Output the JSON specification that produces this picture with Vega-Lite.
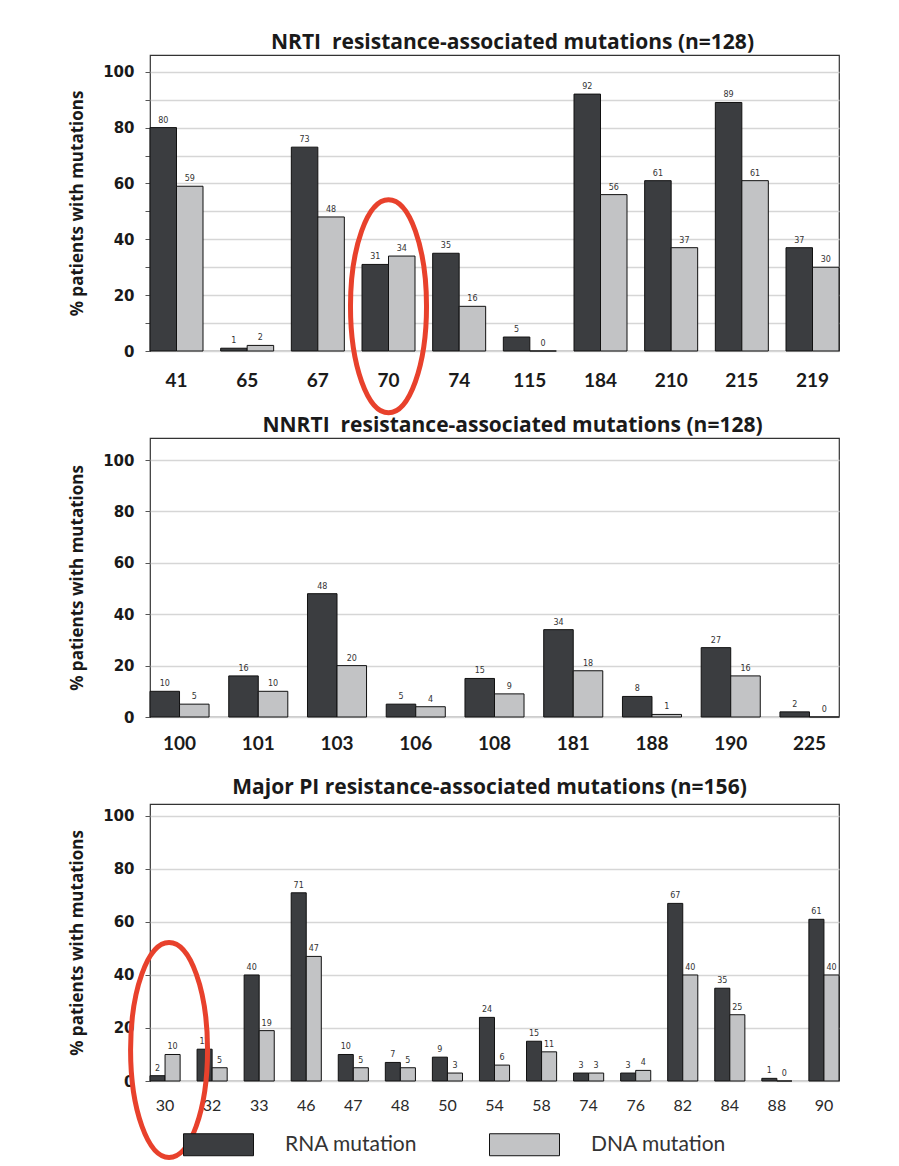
{
  "$schema": "https://vega.github.io/schema/vega-lite/v6.json",
  "padding": {"left": 68, "top": 31, "right": 5, "bottom": 5},
  "background": "#ffffff",
  "bounds": "flush",
  "resolve": {"scale": {"x": "independent", "xOffset": "independent", "y": "independent", "color": "shared"}},
  "datasets": {
    "nrti": [
      {"mutation": "41", "series": "RNA mutation", "pct": 80}, {"mutation": "41", "series": "DNA mutation", "pct": 59},
      {"mutation": "65", "series": "RNA mutation", "pct": 1}, {"mutation": "65", "series": "DNA mutation", "pct": 2},
      {"mutation": "67", "series": "RNA mutation", "pct": 73}, {"mutation": "67", "series": "DNA mutation", "pct": 48},
      {"mutation": "70", "series": "RNA mutation", "pct": 31}, {"mutation": "70", "series": "DNA mutation", "pct": 34},
      {"mutation": "74", "series": "RNA mutation", "pct": 35}, {"mutation": "74", "series": "DNA mutation", "pct": 16},
      {"mutation": "115", "series": "RNA mutation", "pct": 5}, {"mutation": "115", "series": "DNA mutation", "pct": 0},
      {"mutation": "184", "series": "RNA mutation", "pct": 92}, {"mutation": "184", "series": "DNA mutation", "pct": 56},
      {"mutation": "210", "series": "RNA mutation", "pct": 61}, {"mutation": "210", "series": "DNA mutation", "pct": 37},
      {"mutation": "215", "series": "RNA mutation", "pct": 89}, {"mutation": "215", "series": "DNA mutation", "pct": 61},
      {"mutation": "219", "series": "RNA mutation", "pct": 37}, {"mutation": "219", "series": "DNA mutation", "pct": 30}
    ],
    "nnrti": [
      {"mutation": "100", "series": "RNA mutation", "pct": 10}, {"mutation": "100", "series": "DNA mutation", "pct": 5},
      {"mutation": "101", "series": "RNA mutation", "pct": 16}, {"mutation": "101", "series": "DNA mutation", "pct": 10},
      {"mutation": "103", "series": "RNA mutation", "pct": 48}, {"mutation": "103", "series": "DNA mutation", "pct": 20},
      {"mutation": "106", "series": "RNA mutation", "pct": 5}, {"mutation": "106", "series": "DNA mutation", "pct": 4},
      {"mutation": "108", "series": "RNA mutation", "pct": 15}, {"mutation": "108", "series": "DNA mutation", "pct": 9},
      {"mutation": "181", "series": "RNA mutation", "pct": 34}, {"mutation": "181", "series": "DNA mutation", "pct": 18},
      {"mutation": "188", "series": "RNA mutation", "pct": 8}, {"mutation": "188", "series": "DNA mutation", "pct": 1},
      {"mutation": "190", "series": "RNA mutation", "pct": 27}, {"mutation": "190", "series": "DNA mutation", "pct": 16},
      {"mutation": "225", "series": "RNA mutation", "pct": 2}, {"mutation": "225", "series": "DNA mutation", "pct": 0}
    ],
    "pi": [
      {"mutation": "30", "series": "RNA mutation", "pct": 2}, {"mutation": "30", "series": "DNA mutation", "pct": 10},
      {"mutation": "32", "series": "RNA mutation", "pct": 12}, {"mutation": "32", "series": "DNA mutation", "pct": 5},
      {"mutation": "33", "series": "RNA mutation", "pct": 40}, {"mutation": "33", "series": "DNA mutation", "pct": 19},
      {"mutation": "46", "series": "RNA mutation", "pct": 71}, {"mutation": "46", "series": "DNA mutation", "pct": 47},
      {"mutation": "47", "series": "RNA mutation", "pct": 10}, {"mutation": "47", "series": "DNA mutation", "pct": 5},
      {"mutation": "48", "series": "RNA mutation", "pct": 7}, {"mutation": "48", "series": "DNA mutation", "pct": 5},
      {"mutation": "50", "series": "RNA mutation", "pct": 9}, {"mutation": "50", "series": "DNA mutation", "pct": 3},
      {"mutation": "54", "series": "RNA mutation", "pct": 24}, {"mutation": "54", "series": "DNA mutation", "pct": 6},
      {"mutation": "58", "series": "RNA mutation", "pct": 15}, {"mutation": "58", "series": "DNA mutation", "pct": 11},
      {"mutation": "74", "series": "RNA mutation", "pct": 3}, {"mutation": "74", "series": "DNA mutation", "pct": 3},
      {"mutation": "76", "series": "RNA mutation", "pct": 3}, {"mutation": "76", "series": "DNA mutation", "pct": 4},
      {"mutation": "82", "series": "RNA mutation", "pct": 67}, {"mutation": "82", "series": "DNA mutation", "pct": 40},
      {"mutation": "84", "series": "RNA mutation", "pct": 35}, {"mutation": "84", "series": "DNA mutation", "pct": 25},
      {"mutation": "88", "series": "RNA mutation", "pct": 1}, {"mutation": "88", "series": "DNA mutation", "pct": 0},
      {"mutation": "90", "series": "RNA mutation", "pct": 61}, {"mutation": "90", "series": "DNA mutation", "pct": 40}
    ],
    "hl_nrti": [{"mutation": "70", "pct": 16}],
    "hl_pi": [{"mutation": "30", "pct": 11.7}]
  },
  "vconcat": [
    {
      "title": {"text": "NRTI\u00a0 resistance-associated mutations (n=128)", "dx": 18, "offset": 2},
      "width": 689, "height": 296,
      "data": {"name": "nrti"},
      "encoding": {
        "x": {"field": "mutation", "type": "nominal", "sort": null, "title": null,
              "scale": {"paddingInner": 0.25, "paddingOuter": 0},
              "axis": {"labelAngle": 0, "ticks": false, "domain": false, "labelPadding": 20, "labelFont": "Lato", "labelFontSize": 19, "labelFontWeight": "bold", "labelColor": "#1a1a1a"}},
        "y": {"field": "pct", "type": "quantitative", "scale": {"domain": [0, 106], "nice": false},
              "title": "% patients with mutations"}
      },
      "layer": [
        {"mark": {"type": "bar", "stroke": "#111111", "strokeWidth": 1},
         "encoding": {
           "xOffset": {"field": "series", "type": "nominal", "sort": ["RNA mutation", "DNA mutation"], "scale": {"paddingInner": 0, "paddingOuter": 0}},
           "color": {"field": "series", "type": "nominal", "sort": ["RNA mutation", "DNA mutation"], "scale": {"domain": ["RNA mutation", "DNA mutation"], "range": ["#3b3d40", "#c2c3c5"]}}
         }},
        {"mark": {"type": "text", "dy": -7, "fontSize": 8, "font": "DejaVu Sans", "color": "#333333"},
         "encoding": {
           "xOffset": {"field": "series", "type": "nominal", "sort": ["RNA mutation", "DNA mutation"], "scale": {"paddingInner": 0, "paddingOuter": 0}},
           "text": {"field": "pct", "type": "quantitative"}
         }},
        {"data": {"name": "hl_nrti"},
         "mark": {"type": "point", "shape": "M0,-1A0.357,1,0,1,1,0,1A0.357,1,0,1,1,0,-1Z", "size": 45369, "filled": false, "stroke": "#e8412c", "strokeWidth": 5, "opacity": 1},
         "encoding": {"x": {"field": "mutation", "type": "nominal"}, "y": {"field": "pct", "type": "quantitative"}}}
      ]
    },
    {
      "title": {"text": "NNRTI\u00a0 resistance-associated mutations (n=128)", "dx": 18, "offset": 2},
      "width": 689, "height": 279,
      "data": {"name": "nnrti"},
      "encoding": {
        "x": {"field": "mutation", "type": "nominal", "sort": null, "title": null,
              "scale": {"paddingInner": 0.25, "paddingOuter": 0},
              "axis": {"labelAngle": 0, "ticks": false, "domain": false, "labelPadding": 17, "labelFont": "Lato", "labelFontSize": 19, "labelFontWeight": "bold", "labelColor": "#1a1a1a"}},
        "y": {"field": "pct", "type": "quantitative", "scale": {"domain": [0, 108.6], "nice": false},
              "title": "% patients with mutations"}
      },
      "layer": [
        {"mark": {"type": "bar", "stroke": "#111111", "strokeWidth": 1},
         "encoding": {
           "xOffset": {"field": "series", "type": "nominal", "sort": ["RNA mutation", "DNA mutation"], "scale": {"paddingInner": 0, "paddingOuter": 0}},
           "color": {"field": "series", "type": "nominal", "sort": ["RNA mutation", "DNA mutation"], "scale": {"domain": ["RNA mutation", "DNA mutation"], "range": ["#3b3d40", "#c2c3c5"]}}
         }},
        {"mark": {"type": "text", "dy": -7, "fontSize": 8, "font": "DejaVu Sans", "color": "#333333"},
         "encoding": {
           "xOffset": {"field": "series", "type": "nominal", "sort": ["RNA mutation", "DNA mutation"], "scale": {"paddingInner": 0, "paddingOuter": 0}},
           "text": {"field": "pct", "type": "quantitative"}
         }}
      ]
    },
    {
      "title": {"text": "Major PI resistance-associated mutations (n=156)", "dx": -5, "offset": 6},
      "width": 689, "height": 277,
      "data": {"name": "pi"},
      "encoding": {
        "x": {"field": "mutation", "type": "nominal", "sort": null, "title": null,
              "scale": {"paddingInner": 0.36, "paddingOuter": 0},
              "axis": {"labelAngle": 0, "ticks": false, "domain": false, "labelPadding": 16, "labelFont": "Lato", "labelFontSize": 16, "labelFontWeight": "normal", "labelColor": "#2a2a2a"}},
        "y": {"field": "pct", "type": "quantitative", "scale": {"domain": [0, 104.5], "nice": false},
              "title": "% patients with mutations"}
      },
      "layer": [
        {"mark": {"type": "bar", "stroke": "#111111", "strokeWidth": 1},
         "encoding": {
           "xOffset": {"field": "series", "type": "nominal", "sort": ["RNA mutation", "DNA mutation"], "scale": {"paddingInner": 0, "paddingOuter": 0}},
           "color": {"field": "series", "type": "nominal", "sort": ["RNA mutation", "DNA mutation"], "scale": {"domain": ["RNA mutation", "DNA mutation"], "range": ["#3b3d40", "#c2c3c5"]}}
         }},
        {"mark": {"type": "text", "dy": -7, "fontSize": 8, "font": "DejaVu Sans", "color": "#333333"},
         "encoding": {
           "xOffset": {"field": "series", "type": "nominal", "sort": ["RNA mutation", "DNA mutation"], "scale": {"paddingInner": 0, "paddingOuter": 0}},
           "text": {"field": "pct", "type": "quantitative"}
         }},
        {"data": {"name": "hl_pi"},
         "mark": {"type": "point", "shape": "M0,-1A0.358,1,0,1,1,0,1A0.358,1,0,1,1,0,-1Z", "size": 46225, "xOffset": 4, "filled": false, "stroke": "#e8412c", "strokeWidth": 5, "opacity": 1},
         "encoding": {"x": {"field": "mutation", "type": "nominal"}, "y": {"field": "pct", "type": "quantitative"}}}
      ]
    }
  ],
  "spacing": 87,
  "config": {
    "view": {"stroke": "#333333", "strokeWidth": 1.2},
    "title": {"font": "Open Sans", "fontSize": 21, "fontWeight": "bold", "color": "#1a1a1a", "offset": 4, "anchor": "middle"},
    "axisX": {"grid": false},
    "axisY": {
      "values": [0, 10, 20, 30, 40, 50, 60, 70, 80, 90, 100],
      "labelExpr": "datum.value % 20 === 0 ? datum.label : ''",
      "grid": true, "gridColor": "#d6d6d6", "gridWidth": 1.5,
      "domain": false, "ticks": true, "tickSize": 5, "tickColor": "#555555",
      "labelFont": "DejaVu Sans", "labelFontSize": 15, "labelFontWeight": "bold", "labelColor": "#1a1a1a", "labelPadding": 11,
      "titleFont": "Open Sans", "titleFontSize": 17, "titleFontWeight": "bold", "titleColor": "#1a1a1a", "titlePadding": 16
    },
    "legend": {
      "orient": "none", "legendX": 33, "legendY": 1054, "direction": "horizontal", "title": null,
      "symbolType": "M-1,-0.314H1V0.314H-1Z", "symbolSize": 4900, "symbolStrokeColor": "#111111", "symbolStrokeWidth": 1, "symbolOpacity": 1,
      "labelFont": "Lato", "labelFontSize": 21, "labelColor": "#333333", "labelOffset": 31, "columnPadding": 69, "labelLimit": 300
    }
  }
}
